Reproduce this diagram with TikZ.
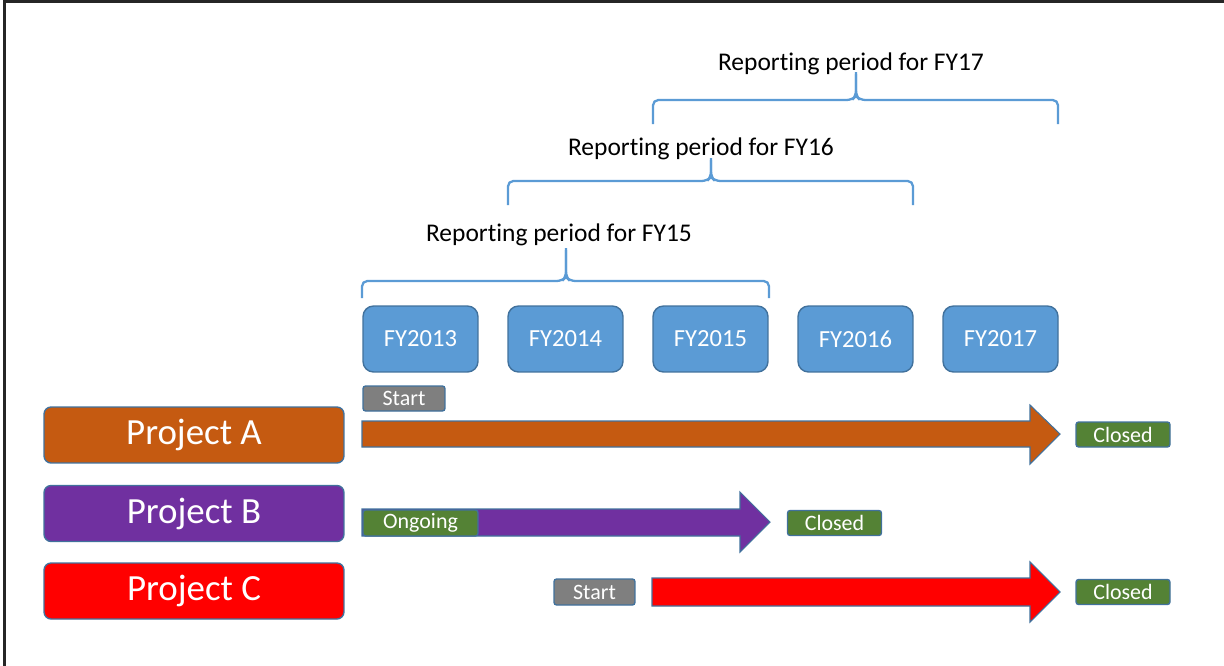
\documentclass[tikz,border=0pt]{standalone}
\usepackage{fontspec}
\setmainfont[Ligatures=NoCommon]{Carlito}
\usepackage{tikz}
\definecolor{yearblue}{HTML}{5B9BD5}
\definecolor{edgeblue}{HTML}{41719C}
\definecolor{projorange}{HTML}{C55A11}
\definecolor{projpurple}{HTML}{7030A0}
\definecolor{projred}{HTML}{FF0000}
\definecolor{tagGreen}{HTML}{548235}
\definecolor{tagGray}{HTML}{7F7F7F}

\begin{document}
\begin{tikzpicture}[x=0.02cm,y=-0.02cm,
  yearbox/.style={draw=edgeblue,line width=0.8pt,fill=yearblue,rounded corners=6pt,text=white,
    minimum width=2.3cm,minimum height=1.32cm,font=\fontsize{14}{16}\selectfont},
  projbox/.style={draw=edgeblue,line width=0.8pt,rounded corners=4pt,text=white,
    minimum width=6cm,minimum height=1.12cm,font=\fontsize{21}{24}\selectfont},
  tag/.style={draw=edgeblue,line width=0.8pt,rounded corners=1.5pt,text=white,
    minimum height=0.5cm,inner sep=0pt,font=\fontsize{12.5}{14}\selectfont},
  bararrow/.style={draw=edgeblue,line width=0.6pt},
  bracket/.style={yearblue,line width=1.3pt,rounded corners=3pt},
  period/.style={font=\fontsize{14.5}{17}\selectfont}]
\useasboundingbox (0,0) rectangle (1224,666);
\draw[line width=1.2pt,black!85] (4.5,666) -- (4.5,1.5) -- (1224,1.5);
% fiscal years
\foreach \yr [count=\i from 0] in {2013,2014,2015,2016,2017}
  \node[yearbox] (fy\yr) at (420.5+145*\i,339) {FY\yr};
% reporting periods
\node[period] (lbl15) at (559,235) {Reporting period for FY15};
\node[period] (lbl16) at (701,149) {Reporting period for FY16};
\node[period] (lbl17) at (851,64) {Reporting period for FY17};
\draw[bracket] (362,298) -- (362,281) -- (562,281) -- (566,277) -- (566,248);
\draw[bracket] (566,250) -- (566,277) -- (570,281) -- (769,281) -- (769,298);
\draw[bracket] (508,205) -- (508,181) -- (707,181) -- (711,177) -- (711,158);
\draw[bracket] (711,160) -- (711,177) -- (715,181) -- (913,181) -- (913,205);
\draw[bracket] (653,124) -- (653,100) -- (852,100) -- (856,96) -- (856,72);
\draw[bracket] (856,74) -- (856,96) -- (860,100) -- (1058,100) -- (1058,124);
% projects
\node[projbox,fill=projorange] (projA) at (194,435) {Project A};
\node[projbox,fill=projpurple] (projB) at (194,513.5) {Project B};
\node[projbox,fill=projred] (projC) at (194,591) {Project C};
% timelines
\filldraw[bararrow,fill=projorange] (362,421) -- (1030,421) -- (1030,405) -- (1060,434)
  -- (1030,464) -- (1030,447) -- (362,447) -- cycle;
\filldraw[bararrow,fill=projpurple] (362,509) -- (740,509) -- (740,492) -- (770,522)
  -- (740,552) -- (740,536) -- (362,536) -- cycle;
\filldraw[bararrow,fill=projred] (652,578) -- (1030,578) -- (1030,562) -- (1060,592)
  -- (1030,622) -- (1030,606) -- (652,606) -- cycle;
% status tags
\node[tag,fill=tagGray,minimum width=1.64cm] (startA) at (404,398.5) {Start};
\node[tag,fill=tagGreen,minimum width=1.88cm] (closedA) at (1123,434.5) {Closed};
\node[tag,fill=tagGreen,minimum width=2.3cm,minimum height=0.52cm] (ongoingB) at (420.5,523) {Ongoing};
\node[tag,fill=tagGreen,minimum width=1.88cm] (closedB) at (834.5,523) {Closed};
\node[tag,fill=tagGray,minimum width=1.62cm,minimum height=0.52cm] (startC) at (594.5,592) {Start};
\node[tag,fill=tagGreen,minimum width=1.88cm] (closedC) at (1123,592) {Closed};
\end{tikzpicture}
\end{document}
